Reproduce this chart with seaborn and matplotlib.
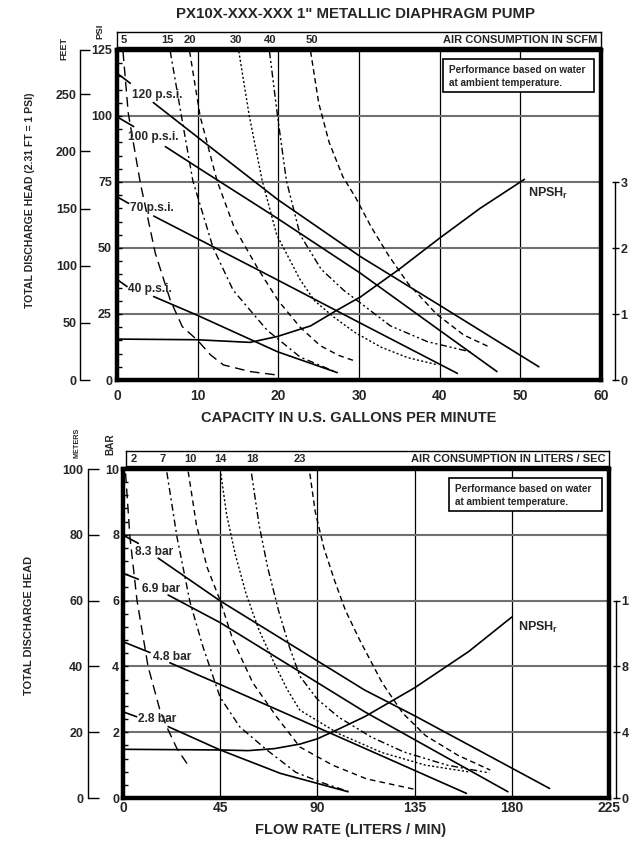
import matplotlib
matplotlib.use("Agg")
import matplotlib.pyplot as plt
import seaborn as sns
from matplotlib.ticker import MultipleLocator
from matplotlib.patches import Rectangle
from matplotlib.transforms import blended_transform_factory

# ================= DATA : top chart (U.S. units) =================
gpm_ticks = [0, 10, 20, 30, 40, 50, 60]
psi_ticks = [0, 25, 50, 75, 100, 125]
feet_ticks = [0, 50, 100, 150, 200, 250]
npsh_ticks_top = [0, 1, 2, 3]
scfm_labels = ["5", "15", "20", "30", "40", "50"]
scfm_label_gpm = [0.87, 6.3, 9.0, 14.7, 19.0, 24.1]

p_labels_top = ["120 p.s.i.", "100 p.s.i.", "70 p.s.i.", "40 p.s.i."]
p_label_gpm = [1.86, 1.37, 1.61, 1.37]
p_label_psi = [108.1, 92.0, 65.2, 34.5]

p120_stub_gpm = [0, 1.65]
p120_stub_psi = [116.2, 112.4]
p120_gpm = [4.5, 9.9, 19.9, 30.2, 40.0, 52.3]
p120_psi = [105.1, 92.2, 68.4, 46.7, 28.3, 5.0]

p100_stub_gpm = [0, 2.07]
p100_stub_psi = [99.7, 96.0]
p100_gpm = [6.0, 9.9, 19.9, 30.2, 40.0, 47.1]
p100_psi = [88.4, 80.7, 61.2, 40.4, 18.8, 3.2]

p70_stub_gpm = [0, 1.45]
p70_stub_psi = [69.4, 66.9]
p70_gpm = [4.55, 19.9, 30.2, 42.2]
p70_psi = [62.1, 37.9, 21.5, 2.5]

p40_stub_gpm = [0, 1.24]
p40_stub_psi = [38.1, 35.4]
p40_gpm = [4.55, 9.9, 19.9, 27.3]
p40_psi = [31.6, 24.6, 10.7, 2.8]

npsh_top_gpm = [0, 9.9, 16.5, 19.9, 24, 27.3, 30.2, 35, 40, 45, 50.5]
npsh_top_val = [0.62, 0.61, 0.57, 0.66, 0.82, 1.06, 1.26, 1.68, 2.15, 2.6, 3.04]

air5_gpm = [0.74, 1.4, 2.9, 4.75, 6.6, 8.1, 10.0, 11.6, 13.2, 16.5, 19.8]
air5_psi = [124.5, 101, 74.5, 48, 30.3, 20.2, 15.0, 9.5, 5.7, 3.2, 1.9]
air15_gpm = [6.6, 8.1, 9.4, 11.9, 14.4, 18.6, 22.7, 27.3]
air15_psi = [124.5, 98, 75.5, 50.2, 34, 18.9, 8.7, 2.8]
air20_gpm = [9.0, 10.3, 12.4, 14.5, 17.5, 20.0, 22.7, 25.2, 27.5, 29.7]
air20_psi = [124.5, 100, 75.5, 58, 42, 30, 20, 13, 9.3, 7]
air30_gpm = [15.1, 16.4, 18.0, 19.8, 22.7, 24.5, 26.8, 29.5, 32.7, 36.0, 39.8]
air30_psi = [124.5, 100, 75.5, 55, 38, 30, 24, 18, 12.5, 8.5, 5.7]
air40_gpm = [18.9, 19.9, 21.0, 22.7, 25.3, 28.1, 33.9, 38.5, 43.9]
air40_psi = [124.5, 100, 75.5, 55, 42, 34, 20.5, 14.5, 10.6]
air50_gpm = [24.0, 25.0, 26.3, 28.0, 29.6, 31.5, 33.7, 36.1, 39.6, 43.0, 46.1]
air50_psi = [124.5, 105, 90, 77, 69, 58, 47, 36.5, 25, 17, 12.6]

# ================= DATA : bottom chart (metric) =================
lpm_ticks = [0, 45, 90, 135, 180, 225]
bar_ticks = [0, 2, 4, 6, 8, 10]
meter_ticks = [0, 20, 40, 60, 80, 100]
npsh_ticks_bot = [0, 4, 8, 12]
lps_labels = ["2", "7", "10", "14", "18", "23"]
lps_label_lpm = [5.1, 18.3, 31.0, 45.1, 59.7, 81.9]

b_labels = ["8.3 bar", "6.9 bar", "4.8 bar", "2.8 bar"]
b_label_lpm = [5.55, 8.66, 14.0, 7.08]
b_label_bar = [7.49, 6.35, 4.29, 2.40]

b83_stub_lpm = [0, 7.1]
b83_stub_bar = [7.99, 7.74]
b83_lpm = [16.3, 45, 111.9, 135, 197.5]
b83_bar = [7.29, 5.99, 3.28, 2.5, 0.29]

b69_stub_lpm = [0, 7.1]
b69_stub_bar = [6.83, 6.65]
b69_lpm = [20.9, 45, 111.9, 178.2]
b69_bar = [6.17, 5.33, 2.62, 0.19]

b48_stub_lpm = [0, 12.5]
b48_stub_bar = [4.75, 4.42]
b48_lpm = [21.7, 45, 111.9, 159]
b48_bar = [4.11, 3.45, 1.51, 0.14]

b28_stub_lpm = [0, 6.3]
b28_stub_bar = [2.62, 2.47]
b28_lpm = [20.9, 45, 72.8, 104.2]
b28_bar = [2.17, 1.46, 0.75, 0.19]

npsh_bot_lpm = [0, 45, 58, 70, 82, 90, 100, 112, 135, 160, 180]
npsh_bot_val = [2.96, 2.92, 2.88, 3.0, 3.28, 3.6, 4.2, 4.95, 6.7, 8.9, 11.0]

air2_lpm = [1.2, 3.2, 6.5, 11.6, 17.1, 20.9, 25.0, 30.1]
air2_bar = [9.87, 7.94, 6.0, 4.0, 2.67, 2.07, 1.5, 1.0]
air7_lpm = [20.3, 25, 31, 37, 44.9, 54.1, 66.6, 80, 92, 104.2]
air7_bar = [9.9, 7.93, 5.96, 4.6, 3.07, 2.16, 1.46, 0.78, 0.47, 0.2]
air10_lpm = [30.2, 34, 39, 45, 50.9, 60.1, 71.2, 81.9, 97, 112.8, 134.6]
air10_bar = [9.92, 8.3, 7.0, 6.0, 4.8, 3.5, 2.46, 1.55, 1.0, 0.58, 0.27]
air14_lpm = [45.3, 48, 52, 57, 63, 70, 76, 81.9, 100, 120, 140, 160.5]
air14_bar = [9.86, 8.6, 7.4, 6.2, 5.1, 4.1, 3.3, 2.67, 1.95, 1.38, 1.0, 0.79]
air18_lpm = [59.5, 63, 67, 72, 77, 81.9, 90, 100, 115, 130, 150, 169.7]
air18_bar = [9.86, 8.3, 7.0, 5.7, 4.6, 3.7, 3.0, 2.45, 1.85, 1.4, 1.0, 0.76]
air23_lpm = [86.5, 89, 93, 98, 103, 109.6, 120, 129.5, 140, 155, 170]
air23_bar = [9.86, 8.7, 7.6, 6.6, 5.7, 4.8, 3.5, 2.58, 1.9, 1.3, 0.85]

# ================= STYLE / LAYOUT =================
sns.set_style("white")
plt.rcParams["font.family"] = ["Liberation Sans", "DejaVu Sans"]
plt.rcParams["font.weight"] = "bold"
plt.rcParams["mathtext.fontset"] = "custom"
plt.rcParams["mathtext.rm"] = "Liberation Sans:bold"
plt.rcParams["mathtext.it"] = "Liberation Sans:bold"
plt.rcParams["mathtext.bf"] = "Liberation Sans:bold"

W, H = 629, 846
fig = plt.figure(figsize=(W / 100, H / 100), dpi=100)
fig.patch.set_facecolor("white")
PT = 0.72  # points per pixel


def fx(px):
    return px / W


def fy(py):
    return 1 - py / H


def line(ax, x, y, ls="-", lw=1.1):
    sns.lineplot(x=x, y=y, ax=ax, color="black", linewidth=lw, linestyle=ls,
                 estimator=None, sort=False, legend=False)


air_styles = [(0, (7, 4)), (0, (5, 2.5, 1.5, 2.5)), (0, (4, 3)),
              (0, (1.5, 1.6)), (0, (5, 2, 1.5, 2, 1.5, 2)), (0, (4, 2.5))]


def setup_main(ax, xlim, ylim, xt, yt, xminor, yminor, xpad, ypad):
    ax.set_xlim(*xlim)
    ax.set_ylim(*ylim)
    ax.set_xticks(xt)
    ax.set_yticks(yt)
    ax.xaxis.set_minor_locator(MultipleLocator(xminor))
    ax.yaxis.set_minor_locator(MultipleLocator(yminor))
    ax.tick_params(which="both", direction="in", top=False, right=False,
                   width=1, color="black", length=5 * PT)
    ax.tick_params(axis="x", which="major", labelsize=10, pad=xpad)
    ax.tick_params(axis="y", which="major", labelsize=9, pad=ypad)
    ax.grid(False)
    ax.xaxis.grid(True, which="major", color="black", lw=0.9)
    ax.yaxis.grid(True, which="major", color="#707070", lw=1.5)
    ax.set_axisbelow(True)
    for s in ax.spines.values():
        s.set_linewidth(3.2)
        s.set_color("black")
        s.set_visible(True)
    ax.set_xlabel("")
    ax.set_ylabel("")


def side_axis(host, side, offset_px, ylim, ticks, labels, bounds, direction,
              length_px, pad_px):
    a = host.twinx()
    for s in a.spines.values():
        s.set_visible(False)
    sp = a.spines[side]
    sp.set_visible(True)
    sp.set_position(("outward", offset_px * PT))
    sp.set_linewidth(1.0)
    sp.set_color("black")
    if bounds is not None:
        sp.set_bounds(*bounds)
    a.yaxis.set_ticks_position(side)
    a.set_ylim(*ylim)
    a.set_yticks(ticks)
    a.set_yticklabels(labels)
    a.tick_params(axis="y", direction=direction, length=length_px * PT, width=1,
                  labelsize=9, pad=pad_px * PT, color="black")
    a.grid(False)
    a.set_ylabel("")
    return a


# ---------------- top chart ----------------
ax1 = fig.add_axes([fx(117), fy(380), fx(601) - fx(117), 330 / H])
line(ax1, air5_gpm, air5_psi, air_styles[0], 1.0)
line(ax1, air15_gpm, air15_psi, air_styles[1], 1.0)
line(ax1, air20_gpm, air20_psi, air_styles[2], 1.0)
line(ax1, air30_gpm, air30_psi, air_styles[3], 1.0)
line(ax1, air40_gpm, air40_psi, air_styles[4], 1.0)
line(ax1, air50_gpm, air50_psi, air_styles[5], 1.0)
for xs, ys in [(p120_stub_gpm, p120_stub_psi), (p120_gpm, p120_psi),
               (p100_stub_gpm, p100_stub_psi), (p100_gpm, p100_psi),
               (p70_stub_gpm, p70_stub_psi), (p70_gpm, p70_psi),
               (p40_stub_gpm, p40_stub_psi), (p40_gpm, p40_psi)]:
    line(ax1, xs, ys, "-", 1.2)
setup_main(ax1, (0, 60), (0, 125), gpm_ticks, psi_ticks, 2, 5, 6.5, 3.6)
for lab, x, y in zip(p_labels_top, p_label_gpm, p_label_psi):
    ax1.text(x, y, lab, ha="left", va="center", fontsize=8.6)

axf = side_axis(ax1, "left", 37, (0, 125 * 2.31), feet_ticks + [125 * 2.31],
                [str(v) for v in feet_ticks] + [""], None, "in", 10, 3)
axn1 = side_axis(ax1, "right", 14, (0, 5), npsh_ticks_top,
                 [str(v) for v in npsh_ticks_top], (0, 3), "inout", 7, 2)
line(axn1, npsh_top_gpm, npsh_top_val, "-", 1.2)
axn1.set_xlim(0, 60)
axn1.set_ylim(0, 5)
ax1.text(51.0, 70.5, r"NPSH$_{\rm r}$", ha="left", va="center", fontsize=9)

s1 = fig.add_axes([fx(117), fy(47), fx(601) - fx(117), 15 / H])
s1.set_xlim(0, 60)
s1.set_ylim(0, 1)
s1.set_xticks([])
s1.set_yticks([])
for s in s1.spines.values():
    s.set_linewidth(1.0)
    s.set_color("black")
for lab, x in zip(scfm_labels, scfm_label_gpm):
    s1.text(x, 0.45, lab, ha="center", va="center", fontsize=8)
s1.text(0.993, 0.45, "AIR CONSUMPTION IN SCFM", transform=s1.transAxes,
        ha="right", va="center", fontsize=8)

# ---------------- bottom chart ----------------
ax2 = fig.add_axes([fx(123), fy(798), fx(609) - fx(123), 329 / H])
line(ax2, air2_lpm, air2_bar, air_styles[0], 1.0)
line(ax2, air7_lpm, air7_bar, air_styles[1], 1.0)
line(ax2, air10_lpm, air10_bar, air_styles[2], 1.0)
line(ax2, air14_lpm, air14_bar, air_styles[3], 1.0)
line(ax2, air18_lpm, air18_bar, air_styles[4], 1.0)
line(ax2, air23_lpm, air23_bar, air_styles[5], 1.0)
for xs, ys in [(b83_stub_lpm, b83_stub_bar), (b83_lpm, b83_bar),
               (b69_stub_lpm, b69_stub_bar), (b69_lpm, b69_bar),
               (b48_stub_lpm, b48_stub_bar), (b48_lpm, b48_bar),
               (b28_stub_lpm, b28_stub_bar), (b28_lpm, b28_bar)]:
    line(ax2, xs, ys, "-", 1.2)
setup_main(ax2, (0, 225), (0, 10), lpm_ticks, bar_ticks, 4.5, 0.4, 2.2, 2.8)
for lab, x, y in zip(b_labels, b_label_lpm, b_label_bar):
    ax2.text(x, y, lab, ha="left", va="center", fontsize=8.6)

axm = side_axis(ax2, "left", 35, (0, 100), meter_ticks,
                [str(v) for v in meter_ticks], None, "in", 11, 5)
axn2 = side_axis(ax2, "right", 7, (0, 20), npsh_ticks_bot,
                 [str(v) for v in npsh_ticks_bot], (0, 12), "inout", 7, 2)
line(axn2, npsh_bot_lpm, npsh_bot_val, "-", 1.2)
axn2.set_xlim(0, 225)
axn2.set_ylim(0, 20)
ax2.text(182.9, 5.17, r"NPSH$_{\rm r}$", ha="left", va="center", fontsize=9)

s2 = fig.add_axes([fx(126), fy(466), fx(609) - fx(126), 15 / H])
s2.set_xticks([])
s2.set_yticks([])
for s in s2.spines.values():
    s.set_linewidth(1.0)
    s.set_color("black")
tr2 = blended_transform_factory(ax2.transData, s2.transAxes)
for lab, x in zip(lps_labels, lps_label_lpm):
    s2.text(x, 0.45, lab, transform=tr2, ha="center", va="center", fontsize=8)
s2.text(0.993, 0.45, "AIR CONSUMPTION IN LITERS / SEC", transform=s2.transAxes,
        ha="right", va="center", fontsize=8)

# ---------------- boxes & free text ----------------
for (x0, y0, x1, y1) in [(443, 59, 594, 92), (449, 478, 602, 511)]:
    fig.add_artist(Rectangle((fx(x0), fy(y1)), fx(x1) - fx(x0), (y1 - y0) / H,
                             transform=fig.transFigure, fill=True, fc="white",
                             ec="black", lw=1.2, zorder=5))
    fig.text(fx(x0 + 6), fy(y0 + 11), "Performance based on water",
             ha="left", va="center", fontsize=7.2, zorder=6)
    fig.text(fx(x0 + 6), fy(y0 + 24), "at ambient temperature.",
             ha="left", va="center", fontsize=7.2, zorder=6)

fig.text(fx(356), fy(14), 'PX10X-XXX-XXX 1" METALLIC DIAPHRAGM PUMP',
         ha="center", va="center", fontsize=10.8)
fig.text(fx(349), fy(418), "CAPACITY IN U.S. GALLONS PER MINUTE",
         ha="center", va="center", fontsize=10.5)
fig.text(fx(351), fy(830), "FLOW RATE (LITERS / MIN)",
         ha="center", va="center", fontsize=10.5)
fig.text(fx(30), fy(200), "TOTAL DISCHARGE HEAD (2.31 FT = 1 PSI)",
         rotation=90, ha="center", va="center", fontsize=7.6)
fig.text(fx(29), fy(625), "TOTAL DISCHARGE HEAD",
         rotation=90, ha="center", va="center", fontsize=7.9)
fig.text(fx(64), fy(48), "FEET", rotation=90, ha="center", va="center", fontsize=6.5)
fig.text(fx(100), fy(31), "PSI", rotation=90, ha="center", va="center", fontsize=6.8)
fig.text(fx(77), fy(443), "METERS", rotation=90, ha="center", va="center", fontsize=5.2)
fig.text(fx(110), fy(444), "BAR", rotation=90, ha="center", va="center", fontsize=7.2)

fig.savefig("out.png", dpi=100, facecolor="white")
